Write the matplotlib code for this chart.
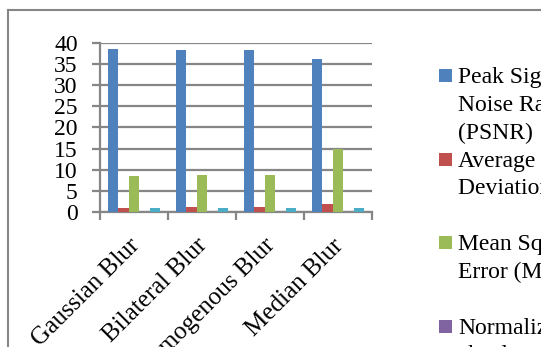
"""
Blur filter comparison - grouped column chart of image quality metrics.
"""

import matplotlib
matplotlib.use('Agg')
import matplotlib.pyplot as plt
from matplotlib.lines import Line2D
from matplotlib.patches import Rectangle
from matplotlib.transforms import ScaledTranslation
import numpy as np


# ---------------------------------------------------------------------------
# Data
# ---------------------------------------------------------------------------
FILTERS = ['Gaussian Blur', 'Bilateral Blur', 'Homogenous Blur', 'Median Blur']

PSNR = [38.5, 38.3, 38.3, 36.1]
AD = [0.95, 1.25, 1.25, 1.8]
MSE = [8.6, 8.8, 8.8, 14.8]
NAE = [0.03, 0.03, 0.03, 0.04]
SSIM = [0.85, 0.85, 0.85, 0.85]

SERIES = [PSNR, AD, MSE, NAE, SSIM]
LABELS = [
    'Peak Signal to\nNoise Ratio\n(PSNR)',
    'Average\nDeviation (AD)',
    'Mean Square\nError (MSE)',
    'Normalized\nabsolute error (NAE)',
    'Structural\nSimilarity (SSIM)',
]
Y_TICKS = [0, 5, 10, 15, 20, 25, 30, 35, 40]

# Office 2007 palette
COLORS = ['#4F81BD', '#C0504D', '#9BBB59', '#8064A2', '#4BACC6']
GRID_COLOR = '#868686'
FONT = 'Liberation Serif'

W, H = 541, 347

fig = plt.figure(figsize=(W / 100, H / 100), dpi=100)
fig.set_facecolor('white')

# plot area in pixel terms
left, right, top, bottom = 100, 372, 43, 212
ax = fig.add_axes([left / W, 1 - bottom / H, (right - left) / W, (bottom - top) / H])

n = len(SERIES)
width = 0.152
x = np.arange(len(FILTERS))
for i, (vals, color) in enumerate(zip(SERIES, COLORS)):
    ax.bar(x + (i - (n - 1) / 2) * width, vals, width=width, color=color,
           edgecolor='none', zorder=3)

ax.set_xlim(-0.5, len(FILTERS) - 0.5)
ax.set_ylim(0, 40)

# y axis: ticks drawn as gridline stubs
ax.set_yticks(Y_TICKS)
ax.set_yticklabels([str(t) for t in Y_TICKS], fontfamily=FONT, fontsize=17)
ax.yaxis.grid(True, color=GRID_COLOR, linewidth=1.6, zorder=0)
ax.tick_params(axis='y', length=6, width=1.6, color=GRID_COLOR, pad=10,
               labelcolor='black')

# x axis: tick marks between categories, labels at centres
ax.set_xticks(np.arange(-0.5, len(FILTERS)), labels=[''] * (len(FILTERS) + 1))
ax.set_xticks(x, minor=True)
ax.set_xticklabels(FILTERS, minor=True, rotation=45, ha='right',
                   rotation_mode='anchor', fontfamily=FONT, fontsize=18)
ax.tick_params(axis='x', which='major', length=6, width=1.6, color=GRID_COLOR)
ax.tick_params(axis='x', which='minor', length=0, pad=14)
nudge = ScaledTranslation(-0.06, -0.03, fig.dpi_scale_trans)
for lbl in ax.get_xticklabels(minor=True):
    lbl.set_transform(lbl.get_transform() + nudge)

ax.set_axisbelow(True)
for side in ('top', 'right'):
    ax.spines[side].set_visible(False)
for side in ('left', 'bottom'):
    ax.spines[side].set_color(GRID_COLOR)
    ax.spines[side].set_linewidth(1.6)

# chart area frame (left and top edges)
fig.add_artist(Line2D([8 / W, 8 / W], [0, 1 - 10 / H], color=GRID_COLOR,
                      linewidth=1.5, transform=fig.transFigure))
fig.add_artist(Line2D([8 / W, 1], [1 - 10 / H, 1 - 10 / H], color=GRID_COLOR,
                      linewidth=1.5, transform=fig.transFigure))

# legend: one slot of three lines per series
line_h = 28
slot_top = 68
for i, (label, color) in enumerate(zip(LABELS, COLORS)):
    y0 = slot_top + i * 83.5
    fig.add_artist(Rectangle((439 / W, 1 - (y0 + 14) / H), 13 / W, 13 / H,
                             facecolor=color, edgecolor='none',
                             transform=fig.transFigure))
    for j, line in enumerate(label.split('\n')):
        fig.text(458 / W, 1 - (y0 + 15 + j * line_h) / H, line,
                 fontfamily=FONT, fontsize=17, va='baseline', ha='left')

fig.savefig('out.png', dpi=100, facecolor='white')
